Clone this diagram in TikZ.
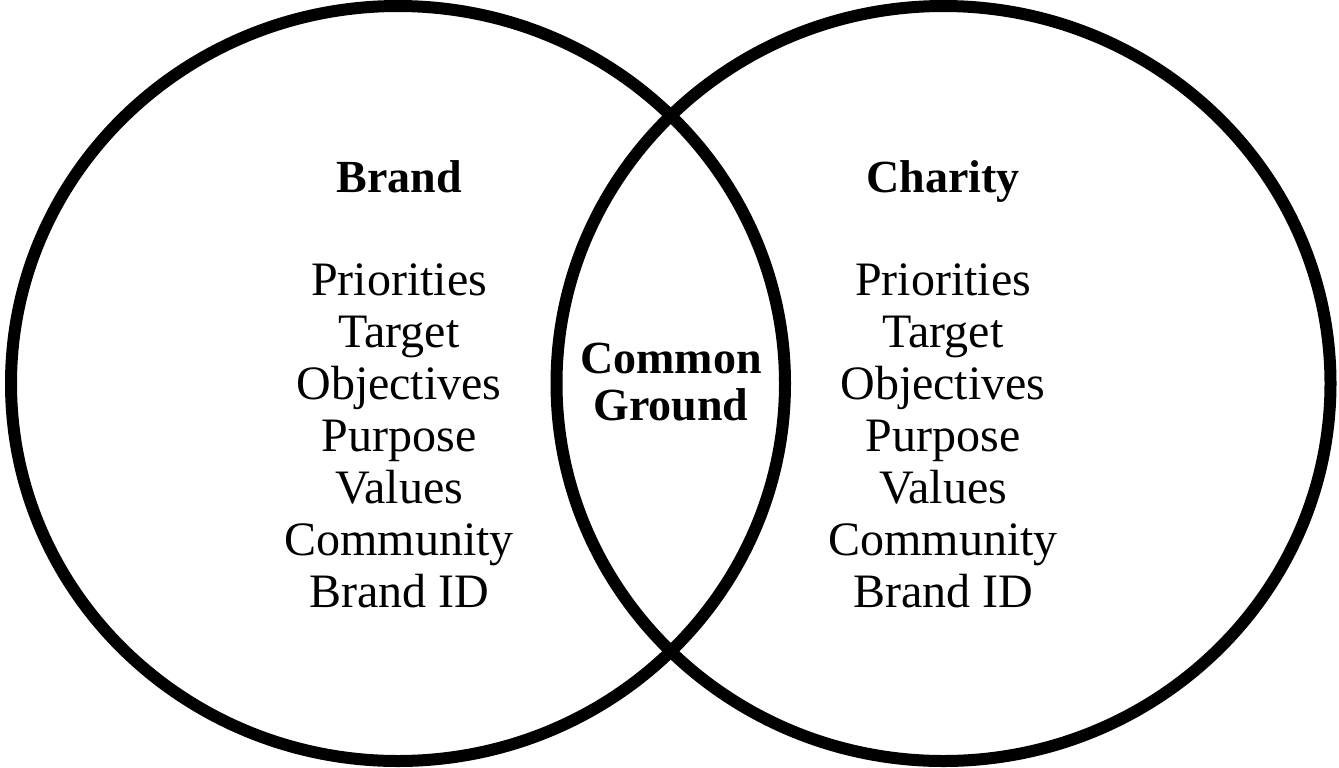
\documentclass[tikz,border=0pt]{standalone}
\usepackage{fontspec}
\setmainfont{Liberation Serif}
\begin{document}
\begin{tikzpicture}[x=0.5pt,y=-0.5pt,
  ring/.style={draw=black,line width=6pt},
  heading/.style={font=\fontsize{23}{26}\selectfont\bfseries,anchor=base,inner sep=0pt},
  item/.style={font=\fontsize{24}{26}\selectfont,anchor=base,inner sep=0pt}]
\useasboundingbox (0,0) rectangle (1339,767);
% the two overlapping sets
\draw[ring] (398,383.5) ellipse [x radius=387, y radius=377.5];
\draw[ring] (943.5,383.5) ellipse [x radius=387, y radius=377.5];
% headings
\node[heading] (brand) at (399,192) {Brand};
\node[heading] (charity) at (943,192) {Charity};
% shared area
\node[heading] (common) at (671,373) {Common};
\node[heading] (ground) at (671,420) {Ground};
% attribute lists
\foreach \t [count=\i] in {Priorities,Target,Objectives,Purpose,Values,Community,Brand ID}{
  \node[item] (brand-\i) at (399,243+52*\i) {\t};
  \node[item] (charity-\i) at (943,243+52*\i) {\t};
}
\end{tikzpicture}
\end{document}
